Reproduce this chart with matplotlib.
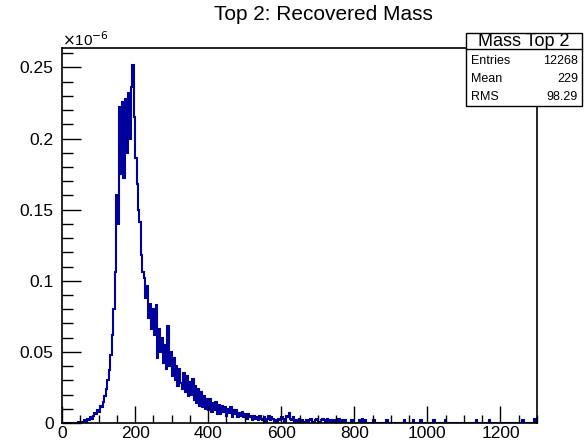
import numpy as np
import matplotlib
matplotlib.use("Agg")
import matplotlib.pyplot as plt
import matplotlib.ticker as plticker
from matplotlib.patches import Rectangle

plt.rcParams['font.family'] = ['Liberation Sans', 'DejaVu Sans']

# histogram: 4 GeV bins, values in units of 1e-9
bin_width = 4
n_bins = 325
# bins from 0 to 780 GeV
main_values = [
    0, 0, 0, 0, 0, 0, 0, 0, 0, 0,          # 0-40
    0, 1, 0, 1, 0, 2, 1, 3, 2, 4,          # 40-80
    3, 5, 7, 6, 9, 8, 12, 11, 15, 19,      # 80-120
    24, 30, 37, 48, 62, 80, 106, 160, 140, 222,   # 120-160
    175, 226, 172, 228, 190, 232, 200, 236, 252, 215,  # 160-200
    186, 168, 150, 141, 118, 106, 102, 88, 96, 74,     # 200-240
    84, 66, 80, 62, 83, 46, 66, 50, 60, 42,            # 240-280
    55, 38, 68, 40, 50, 33, 46, 30, 40, 26,            # 280-320
    38, 28, 24, 35, 22, 33, 19, 29, 20, 31,            # 320-360
    16, 26, 14, 24, 12, 22, 11, 19, 10, 17,            # 360-400
    9, 17, 8, 14, 9, 15, 6, 13, 6, 12,                 # 400-440
    8, 11, 5, 10, 7, 11, 4, 9, 6, 9,                   # 440-480
    4, 7, 5, 8, 4, 6, 3, 6, 4, 5,                      # 480-520
    2, 5, 3, 4, 2, 5, 3, 2, 4, 1,                      # 520-560
    3, 5, 2, 4, 3, 1, 2, 0, 3, 2,                      # 560-600
    4, 3, 1, 5, 4, 7, 3, 2, 4, 1,                      # 600-640
    2, 0, 3, 1, 2, 0, 1, 2, 0, 2,                      # 640-680
    3, 1, 0, 2, 3, 1, 0, 2, 3, 2,                      # 680-720
    1, 3, 2, 0, 2, 1, 2, 0, 1, 3,                      # 720-760
    0, 2, 0, 2, 0,                                     # 760-780
]
# isolated entries in the far tail
tail_mass = [795, 812, 820, 828, 852, 890, 937, 961, 981, 1017, 1049, 1133, 1169, 1262, 1295]
tail_values = [2, 2, 3, 2, 2, 2, 2, 2, 2, 2, 2, 2, 2, 2, 3]

stats_title = "Mass Top 2"
stats_rows = [("Entries", "12268"), ("Mean", "229"), ("RMS", "98.29")]

edges = np.arange(n_bins + 1) * bin_width
counts = np.zeros(n_bins)
counts[:len(main_values)] = main_values
for m, v in zip(tail_mass, tail_values):
    counts[int(m // bin_width)] = v

fig = plt.figure(figsize=(5.86, 4.42), dpi=100)
ax = fig.add_axes([62 / 586, 1 - 423 / 442, (537 - 62) / 586, (423 - 47.5) / 442])

ax.stairs(counts / 1000.0, edges, color='#00009c', linewidth=1.5)

ax.set_xlim(0, 1300)
ax.set_ylim(0, 0.264)

ax.xaxis.set_major_locator(plticker.MultipleLocator(200))
ax.xaxis.set_minor_locator(plticker.MultipleLocator(50))
ax.yaxis.set_major_locator(plticker.MultipleLocator(0.05))
ax.yaxis.set_minor_locator(plticker.MultipleLocator(0.01))
ax.yaxis.set_major_formatter(plticker.FuncFormatter(lambda v, p: '0' if v == 0 else ('%g' % round(v, 3))))

ax.tick_params(axis='x', which='major', direction='in', length=12, width=1, labelsize=12.5, pad=2)
ax.tick_params(axis='x', which='minor', direction='in', length=6, width=1)
ax.tick_params(axis='y', which='major', direction='in', length=14, width=1, labelsize=12.5, pad=6)
ax.tick_params(axis='y', which='minor', direction='in', length=8, width=1)
for s in ax.spines.values():
    s.set_linewidth(1.2)

fig.text(323 / 586, 1 - 15 / 442, "Top 2: Recovered Mass", ha='center', va='center', fontsize=15)
fig.text(62 / 586, 1 - 40 / 442, r"$\times$10$^{-6}$", ha='left', va='center', fontsize=11)

# stats box
bx0, bx1, by0, by1, bsep = 466, 582, 32.5, 106, 49
fig.patches.append(Rectangle((bx0 / 586, 1 - by1 / 442), (bx1 - bx0) / 586, (by1 - by0) / 442,
                             transform=fig.transFigure, facecolor='white', edgecolor='black',
                             linewidth=1, zorder=5))
fig.lines.append(plt.Line2D([bx0 / 586, bx1 / 586], [1 - bsep / 442, 1 - bsep / 442],
                            transform=fig.transFigure, color='black', linewidth=1, zorder=6))
fig.text((bx0 + bx1) / 2 / 586, 1 - 41.5 / 442, stats_title, ha='center', va='center', fontsize=13, zorder=7)
for i, (name, val) in enumerate(stats_rows):
    y = 1 - (60.5 + i * 18.5) / 442
    fig.text((bx0 + 5) / 586, y, name, ha='left', va='center', fontsize=9, zorder=7)
    fig.text((bx1 - 4) / 586, y, val, ha='right', va='center', fontsize=9, zorder=7)

fig.savefig("out.png", dpi=100)
